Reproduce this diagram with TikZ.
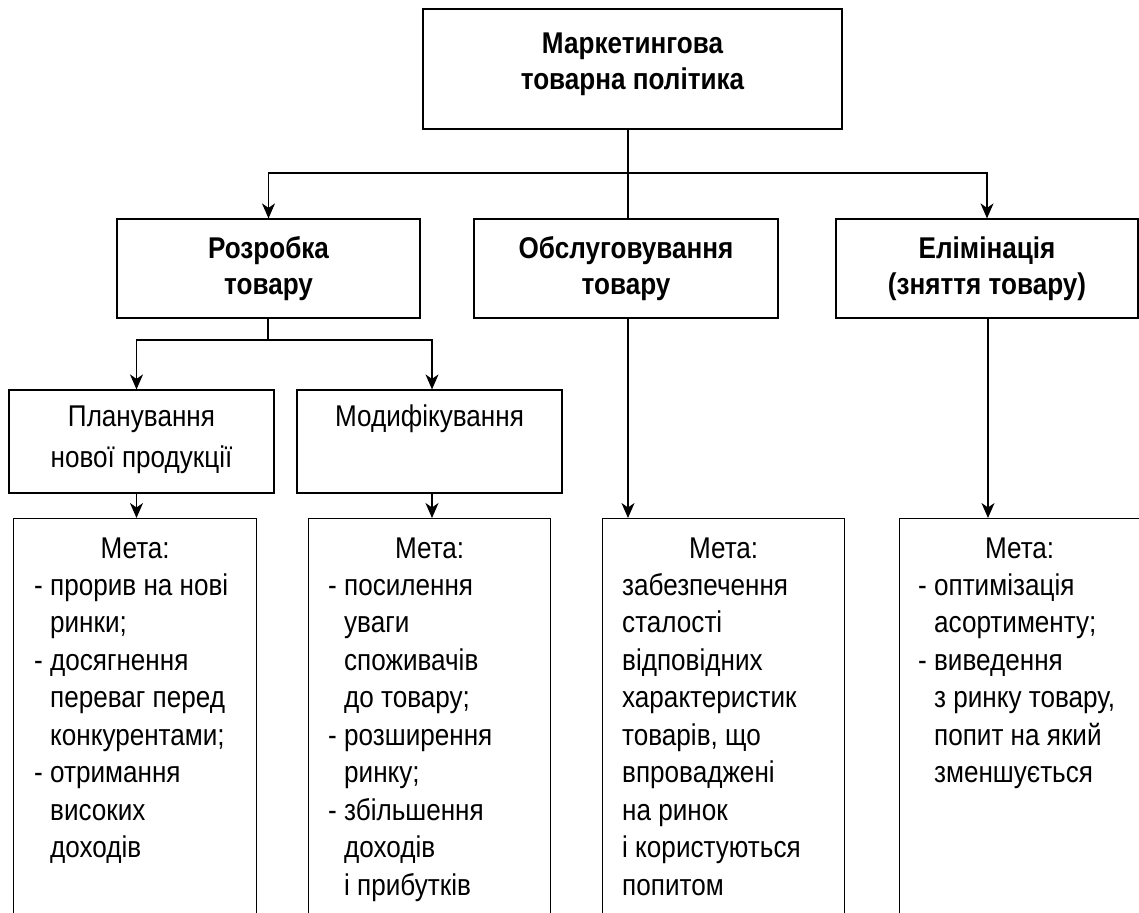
\documentclass[tikz,border=0pt]{standalone}
\usepackage{fontspec}
\setmainfont{Liberation Sans}[FakeStretch=0.87]
\usetikzlibrary{arrows.meta}

\tikzset{
  box/.style={draw, line width=1.2pt, align=center, inner sep=0pt},
  headbox/.style={box, font=\fontsize{30}{36}\selectfont\bfseries},
  subbox/.style={box, minimum width=265pt, minimum height=103pt, font=\fontsize{30}{41}\selectfont},
  goalbox/.style={draw, line width=1.2pt, inner sep=0pt, anchor=north west, minimum height=480pt},
  goalhead/.style={inner sep=0pt, font=\fontsize{30}{37.5}\selectfont},
  goaltext/.style={anchor=north west, inner sep=0pt, align=left, font=\fontsize{30}{37.5}\selectfont},
  link/.style={line width=1.2pt},
  arr/.style={link, -{Stealth[length=15pt, width=13pt, inset=4.5pt]}}
}
\newcommand{\indt}{\phantom{-~}}
\newcommand{\firstln}{\rule{0pt}{24pt}}

\begin{document}
\begin{tikzpicture}[x=1pt, y=-1pt]
  \useasboundingbox (0,0) rectangle (1139,912);
  \clip (0,0) rectangle (1139,912);

  % top level
  \node[headbox, minimum width=419pt, minimum height=120pt, text depth=16pt] (top) at (632.5,69)
    {Маркетингова\\товарна політика};

  % second row
  \node[headbox, minimum width=303pt, minimum height=99pt] (dev) at (268.5,268.5) {Розробка\\товару};
  \node[headbox, minimum width=304pt, minimum height=99pt] (serv) at (626,268.5) {Обслуговування\\товару};
  \node[headbox, minimum width=302pt, minimum height=99pt] (elim) at (987,268.5) {Елімінація\\(зняття товару)};

  % third row
  \node[subbox, text depth=10pt] (plan) at (141.5,441.5) {Планування\\нової продукції};
  \node[subbox, text depth=10pt] (mod) at (429.5,441.5) {Модифікування\\\mbox{}};

  % goal boxes
  \node[goalbox, minimum width=243pt] (g1) at (13,518) {};
  \node[goalbox, minimum width=242pt] (g2) at (308,518) {};
  \node[goalbox, minimum width=242pt] (g3) at (602,518) {};
  \node[goalbox, minimum width=240pt] (g4) at (899,518) {};

  \node[goalhead] (h1) at ([shift={(0,30)}]g1.north) {Мета:};
  \node[goalhead] (h2) at ([shift={(0,30)}]g2.north) {Мета:};
  \node[goalhead] (h3) at ([shift={(0,30)}]g3.north) {Мета:};
  \node[goalhead] (h4) at ([shift={(0,30)}]g4.north) {Мета:};

  \node[goaltext] (l1) at ([shift={(21,53)}]g1.north west)
    {\firstln- прорив на нові\\\indt ринки;\\- досягнення\\\indt переваг перед\\\indt конкурентами;\\- отримання\\\indt високих\\\indt доходів};
  \node[goaltext] (l2) at ([shift={(20,53)}]g2.north west)
    {\firstln- посилення\\\indt уваги\\\indt споживачів\\\indt до товару;\\- розширення\\\indt ринку;\\- збільшення\\\indt доходів\\\indt і прибутків};
  \node[goaltext] (l3) at ([shift={(20,53)}]g3.north west)
    {\firstln забезпечення\\сталості\\відповідних\\характеристик\\товарів, що\\впроваджені\\на ринок\\і користуються\\попитом};
  \node[goaltext] (l4) at ([shift={(19,53)}]g4.north west)
    {\firstln- оптимізація\\\indt асортименту;\\- виведення\\\indt з ринку товару,\\\indt попит на який\\\indt зменшується};

  % connectors
  \coordinate (split) at (628,173);
  \draw[link] (top.south -| split) -- (serv.north -| split);
  \draw[arr] (split) -| (dev.north);
  \draw[arr] (split) -| (elim.north);

  \coordinate (split2) at (268,340);
  \draw[link] (dev.south -| split2) -- (split2);
  \draw[arr] (split2) -| ([xshift=-5pt]plan.north);
  \draw[arr] (split2) -| ([xshift=2.5pt]mod.north);

  \draw[arr] ([xshift=-5pt]plan.south) -- ([xshift=-5pt]plan.south |- g1.north);
  \draw[arr] ([xshift=2.5pt]mod.south) -- ([xshift=2.5pt]mod.south |- g2.north);
  \draw[arr] (serv.south -| split) -- (split |- g3.north);
  \draw[arr] ([xshift=1pt]elim.south) -- ([xshift=1pt]elim.south |- g4.north);
\end{tikzpicture}
\end{document}
